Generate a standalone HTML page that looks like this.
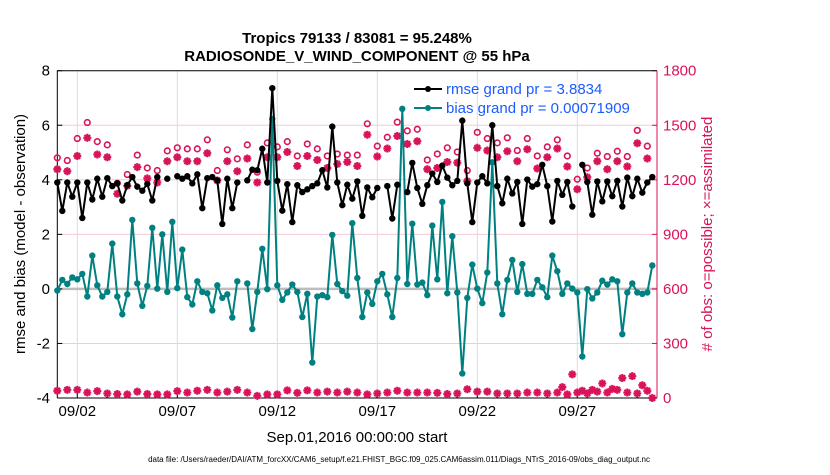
<!DOCTYPE html>
<html><head><meta charset="utf-8"><style>
body{margin:0;background:#fff;}
svg text{font-family:"Liberation Sans",Arial,sans-serif;}
</style></head><body>
<svg id="chart" width="830" height="470" viewBox="0 0 830 470" xmlns="http://www.w3.org/2000/svg">
<rect width="830" height="470" fill="#fff"/>
<g id="grid"></g>
<g id="axes"></g>
<g id="marks"></g>
<text x="357" y="43" text-anchor="middle" font-size="15" font-weight="bold">Tropics 79133 / 83081 = 95.248%</text>
<text x="357" y="61" text-anchor="middle" font-size="15" font-weight="bold">RADIOSONDE_V_WIND_COMPONENT @ 55 hPa</text>
<text transform="translate(25,234) rotate(-90)" text-anchor="middle" font-size="15">rmse and bias (model - observation)</text>
<text transform="translate(712,234) rotate(-90)" text-anchor="middle" font-size="15" fill="#d9125a"># of obs: o=possible; ×=assimilated</text>
<text x="357" y="442" text-anchor="middle" font-size="15">Sep.01,2016 00:00:00 start</text>
<text x="399" y="462" text-anchor="middle" font-size="8">data file: /Users/raeder/DAI/ATM_forcXX/CAM6_setup/f.e21.FHIST_BGC.f09_025.CAM6assim.011/Diags_NTrS_2016-09/obs_diag_output.nc</text>
<g>
<line x1="414" y1="89" x2="442" y2="89" stroke="#000" stroke-width="2"/><circle cx="428" cy="89" r="3" fill="#000"/>
<text x="446" y="94" font-size="15" fill="#1a5cff">rmse grand pr = 3.8834</text>
<line x1="414" y1="108" x2="442" y2="108" stroke="#008080" stroke-width="2"/><circle cx="428" cy="108" r="3" fill="#008080"/>
<text x="446" y="113" font-size="15" fill="#1a5cff">bias grand pr = 0.00071909</text>
</g>
</svg>
<script>
const rmse=[3.9,2.86,3.9,3.38,3.9,2.6,3.9,3.28,4.04,3.38,4.06,3.77,3.87,3.24,3.8,4.1,3.75,3.6,3.85,3.24,4.1,null,4.04,null,4.13,4.04,4.13,3.87,4.2,2.96,4.06,4.1,3.98,2.38,4.04,2.96,3.9,null,3.98,4.37,4.35,5.14,3.9,7.36,3.96,2.87,3.84,2.45,3.8,3.55,3.65,3.77,3.87,4.35,3.72,5.95,3.9,3.07,3.82,3.31,3.94,2.68,3.72,3.36,3.7,null,3.77,2.58,3.82,null,3.55,4.62,3.7,3.12,3.8,4.23,3.92,4.52,4.08,3.8,3.96,6.17,3.87,2.45,3.9,4.13,3.87,6.0,3.77,3.14,4.04,3.5,3.92,2.38,4.01,3.75,3.84,4.55,3.77,2.47,3.96,3.45,3.92,3.02,null,4.55,3.92,2.72,3.94,3.21,3.94,3.4,3.96,3.02,4.08,3.4,4.04,3.53,3.9,4.1];
const bias=[-0.06,0.33,0.18,0.42,0.35,0.55,-0.28,1.22,0.13,-0.28,-0.11,1.66,-0.28,-0.93,-0.2,2.53,0.2,-0.62,0.11,2.24,0.01,2.0,-0.11,2.46,0.03,1.44,-0.3,-0.57,0.28,-0.11,-0.16,-0.79,0.13,-0.33,-0.2,-1.05,0.28,null,0.2,-1.47,-0.11,1.47,-0.01,6.23,0.13,-0.4,-0.13,0.16,-0.11,-1.03,-0.18,-2.7,-0.28,-0.23,-0.3,1.98,0.18,-0.08,-0.25,2.41,0.4,-1.03,-0.13,-0.55,0.28,0.55,-0.2,-1.03,0.4,6.6,0.18,2.39,0.16,0.23,-0.23,2.32,0.35,3.19,-0.16,1.93,-0.13,-3.1,-0.33,0.89,0.01,-0.52,0.6,4.64,0.2,-0.93,0.33,1.06,-0.11,0.91,-0.18,-0.18,0.33,0.06,-0.3,1.22,0.65,-0.18,0.2,0.01,-0.13,-2.48,-0.01,-0.35,-0.13,0.3,0.16,0.35,0.28,-1.66,-0.13,0.2,-0.13,-0.18,-0.13,0.86];
const possible=[1321,1306,1427,1515,1410,1392,1181,1229,1336,1265,1251,1359,1376,1370,1370,1420,1251,1365,1315,1392,1242,1403,1381,1410,1331,1397,1370,1331,1342,1336,1336,1508,1385,1434,1517,1469,1478,1309,1342,1376,1353,1251,1461,1427,1403,1431,1361,1427,1331,1381,1420,1331,1203,1265,1346,1328,1357,1328,1472,1385];
const assimilated=[1258,1247,1331,1431,1339,1324,1123,1167,1270,1208,1185,1302,1324,1302,1302,1346,1196,1302,1247,1317,1185,1324,1324,1353,1276,1331,1309,1265,1287,1298,1276,1448,1328,1372,1441,1397,1412,1258,1265,1298,1294,1192,1376,1361,1324,1357,1302,1368,1262,1324,1372,1273,1148,1214,1302,1258,1302,1273,1401,1317];
const lowCount=[40,45,45,30,38,25,22,20,35,22,20,20,38,30,40,45,30,35,45,30,12,20,20,42,28,42,30,35,30,35,30,20,25,30,40,30,30,30,28,22,25,48,35,35,25,25,25,30,30,25,30,20,30,25,35,30,45,30,25,40];
const lowCountOdd=[20,25,28,30,20,15,30,20,25,15,10,30,20,25,30,25,30,20,25,25,20,25,30,25,20,25,30,25,20,25,20,25,25,20,25,30,20,25,30,20,20,25,25,20,25,20,30,20,30,25,60,130,40,45,80,50,110,120,70,0];
const leftTicks=[-4,-2,0,2,4,6,8];
const rightTicks=[0,300,600,900,1200,1500,1800];
const dateLabels=["09/02","09/07","09/12","09/17","09/22","09/27"];
const dateDays=[1,6,11,16,21,26];

const X0=57.3,XR=657,YT=70.7,YB=398;
const xIdx=i=>X0+i*5;
const yL=v=>YB-(v+4)/12*(YB-YT);
const yR=v=>YB-v/1800*(YB-YT);
const NS="http://www.w3.org/2000/svg";
function mk(tag,attrs,parent){const e=document.createElementNS(NS,tag);for(const k in attrs)e.setAttribute(k,attrs[k]);parent.appendChild(e);return e;}
const grid=document.getElementById('grid'),axes=document.getElementById('axes'),marks=document.getElementById('marks');
leftTicks.forEach((t,k)=>{
  const y=yL(t);
  if(t>-4&&t<8){const g=mk('line',{x1:X0,x2:XR,y1:y,y2:y,stroke:'#f6c9d8','stroke-width':1},grid);
  
  }
  const tx=mk('text',{x:50,y:y+5,'text-anchor':'end','font-size':15},axes);tx.textContent=t;
  
  
  mk('line',{x1:X0,x2:X0+5,y1:y,y2:y,stroke:'#000'},axes);
});
rightTicks.forEach(t=>{
  const y=yR(t);
  const tx=mk('text',{x:663,y:y+5,'font-size':15,fill:'#d9125a'},axes);tx.textContent=t;
  
  
  mk('line',{x1:XR-5,x2:XR,y1:y,y2:y,stroke:'#d9125a'},axes);
});
dateDays.forEach((d,k)=>{
  const x=xIdx(d*4);
  const g=mk('line',{x1:x,x2:x,y1:YT,y2:YB,stroke:'#dcdcdc'},grid);
  
  
  mk('line',{x1:x,x2:x,y1:YB,y2:YB-5,stroke:'#000'},axes);
  const tx=mk('text',{x:x,y:416,'text-anchor':'middle','font-size':15},axes);tx.textContent=dateLabels[k];
  
  
});
const zl=mk('line',{x1:X0,x2:XR,y1:yL(0),y2:yL(0),stroke:'#bdbdbd','stroke-width':2.5},grid);


mk('path',{d:`M${X0},${YB}V${YT}H${XR}`,fill:'none',stroke:'#000'},axes);
mk('line',{x1:X0,x2:XR,y1:YB,y2:YB,stroke:'#000'},axes);
mk('line',{x1:XR,x2:XR,y1:YT,y2:YB,stroke:'#d9125a'},axes);

function star(cx,cy,parent){
  const r=4;let d='';
  for(let a=0;a<4;a++){const t=a*Math.PI/4;d+=`M${cx-r*Math.cos(t)},${cy-r*Math.sin(t)}L${cx+r*Math.cos(t)},${cy+r*Math.sin(t)}`;}
  return mk('path',{d:d,stroke:'#d9125a','stroke-width':2.2,fill:'none'},parent);
}
possible.forEach((v,k)=>{
  const c=mk('circle',{cx:xIdx(k*2),cy:yR(v),r:2.8,fill:'none',stroke:'#d9125a','stroke-width':1.6},marks);
  
  
});
assimilated.forEach((v,k)=>{
  const s=star(xIdx(k*2),yR(v),marks);
  
  
});
function lowMark(x,v){
  const y=yR(v);
  mk('circle',{cx:x,cy:y,r:2.8,fill:'#d9125a'},marks);
  const s=star(x,y,marks);
  
  
}
lowCount.forEach((v,k)=>lowMark(xIdx(k*2),v));
lowCountOdd.forEach((v,k)=>{ if(k>=50) lowMark(xIdx(k*2+1),v); });

function series(arr,color,name){
  let d='',pen=false;
  arr.forEach((v,i)=>{ if(v===null){pen=false;return;} d+=(pen?'L':'M')+xIdx(i)+','+yL(v); pen=true; });
  const p=mk('path',{d:d,fill:'none',stroke:color,'stroke-width':2},marks);
  
  
  arr.forEach((v,i)=>{ if(v===null)return;
    const c=mk('circle',{cx:xIdx(i),cy:yL(v),r:3.2,fill:color},marks);
    
    
  });
}
series(bias,'#008080','bias');
series(rmse,'#000000','rmse');
</script>
</body></html>
